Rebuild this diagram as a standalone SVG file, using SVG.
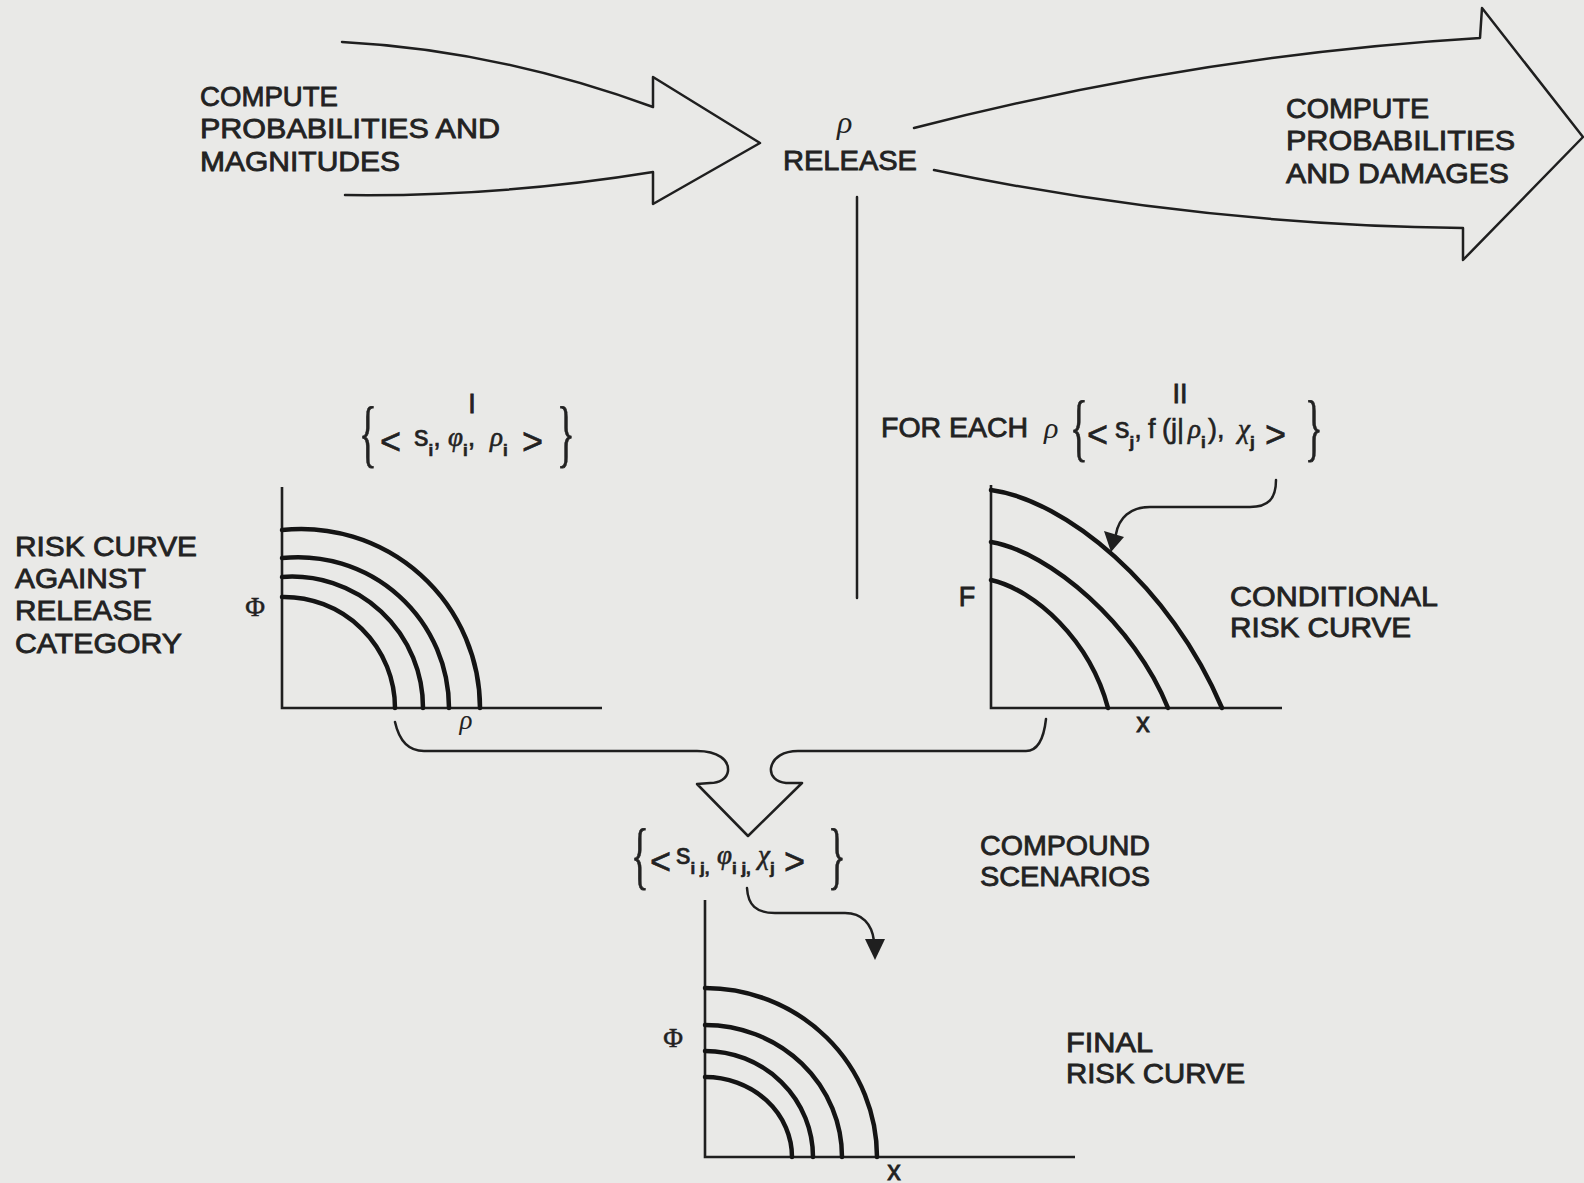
<svg xmlns="http://www.w3.org/2000/svg" width="1584" height="1183" viewBox="0 0 1584 1183">
<style>
.bg{fill:#e9e9e7}
.ln{fill:none;stroke:#1f1f1f;stroke-width:2.5;stroke-linecap:round;stroke-linejoin:round}
.ax{fill:none;stroke:#1f1f1f;stroke-width:2.6}
.cv{fill:none;stroke:#141414;stroke-width:4.5;stroke-linecap:round}
.head{fill:#1f1f1f}
.lbl{font-family:"Liberation Sans",Arial,sans-serif;font-size:27px;fill:#222;stroke:#222;stroke-width:0.8}
.m{font-family:"Liberation Sans",Arial,sans-serif;font-size:27px;fill:#222;stroke:#222;stroke-width:0.6}
.s{font-size:29px}
.gr{font-family:"Liberation Serif","Times New Roman",serif;font-style:italic}
.sub{font-size:17px;font-weight:bold}
.op{font-size:36px}
.br{font-family:"Liberation Serif",serif;font-size:74px;fill:#222;stroke:#222;stroke-width:0.8}
.ax-l{font-family:"Liberation Serif",serif;font-size:27px;fill:#222;stroke:#222;stroke-width:0.5}
</style>
<rect class="bg" x="0" y="0" width="1584" height="1183"/>

<g id="connectors">
  <path id="arrow-in" class="ln" d="M 342 42 Q 497 50 653 107 L 653 77 L 760 143 L 653 204 L 653 172 Q 499 197 345 195"/>
  <path id="arrow-out" class="ln" d="M 914 128 Q 1197 55 1480 38 L 1482 8 L 1583 137 L 1463 260 L 1463 228 Q 1198 225 934 170"/>
  <line id="release-line" class="ln" x1="857" y1="197" x2="857" y2="598"/>
  <path id="merge-arrow" class="ln" d="M 395 722 C 399 740 408 751 424 751 L 697 751 C 718 751 729 760 728 771 C 727 779 719 783 710 783 L 697 784 L 748 836 L 802 783 L 786 783 C 776 782 770 776 771 768 C 773 757 784 751 798 751 L 1026 751 C 1038 751 1044 737 1046 719"/>
  <path id="cond-pointer" class="ln" d="M 1276 480 C 1276 499 1268 507 1250 507 L 1150 507 C 1130 507 1119 518 1116 534"/>
  <polygon class="head" points="1104,531 1124,537 1111,552"/>
  <path id="final-pointer" class="ln" d="M 747 888 C 748 905 756 913 775 913 L 845 913 C 862 913 872 924 874 941"/>
  <polygon class="head" points="865,939 885,939 875,960"/>
</g>

<g id="node-compute-left">
  <text class="lbl" x="200" y="106" textLength="138" lengthAdjust="spacingAndGlyphs">COMPUTE</text>
  <text class="lbl" x="200" y="138" textLength="300" lengthAdjust="spacingAndGlyphs">PROBABILITIES AND</text>
  <text class="lbl" x="200" y="171" textLength="200" lengthAdjust="spacingAndGlyphs">MAGNITUDES</text>
</g>

<g id="node-release">
  <text class="gr" x="837" y="133" font-size="32" fill="#222">ρ</text>
  <text class="lbl" x="783" y="170" textLength="134" lengthAdjust="spacingAndGlyphs">RELEASE</text>
</g>

<g id="node-compute-right">
  <text class="lbl" x="1286" y="118" textLength="143" lengthAdjust="spacingAndGlyphs">COMPUTE</text>
  <text class="lbl" x="1286" y="150" textLength="229" lengthAdjust="spacingAndGlyphs">PROBABILITIES</text>
  <text class="lbl" x="1286" y="183" textLength="223" lengthAdjust="spacingAndGlyphs">AND DAMAGES</text>
</g>

<g id="node-set-I">
  <text class="lbl" x="472" y="413" text-anchor="middle" font-size="21">I</text>
  <text class="br" transform="translate(359,458) scale(0.5,1)">{</text>
  <text class="m"><tspan class="op" x="380" y="454">&lt;</tspan><tspan class="s" x="414" y="446">s</tspan><tspan class="sub" y="456">i</tspan><tspan y="446">,</tspan><tspan class="gr" x="448" y="446">φ</tspan><tspan class="sub" y="456">i</tspan><tspan y="446">,</tspan><tspan class="gr" x="490" y="446">ρ</tspan><tspan class="sub" y="456">i</tspan><tspan class="op" x="522" y="454">&gt;</tspan></text>
  <text class="br" transform="translate(557,458) scale(0.5,1)">}</text>
</g>

<g id="node-set-II">
  <text class="lbl" x="1180" y="403" text-anchor="middle" font-size="21">II</text>
  <text class="lbl" x="881" y="437" textLength="147" lengthAdjust="spacingAndGlyphs">FOR EACH</text>
  <text class="gr" x="1044" y="438" font-size="30" fill="#222">ρ</text>
  <text class="br" transform="translate(1070,452) scale(0.5,1)">{</text>
  <text class="m"><tspan class="op" x="1087" y="447">&lt;</tspan><tspan class="s" x="1115" y="438">s</tspan><tspan class="sub" y="448">j</tspan><tspan y="438">,</tspan><tspan x="1148" y="438">f</tspan><tspan x="1162" y="438">(j|</tspan><tspan class="gr" x="1188" y="438">ρ</tspan><tspan class="sub" y="448">i</tspan><tspan x="1208" y="438">),</tspan><tspan class="gr" x="1238" y="438">χ</tspan><tspan class="sub" y="448">j</tspan><tspan class="op" x="1265" y="447">&gt;</tspan></text>
  <text class="br" transform="translate(1305,452) scale(0.5,1)">}</text>
</g>

<g id="node-risk-curve-release">
  <text class="lbl" x="15" y="556" textLength="182" lengthAdjust="spacingAndGlyphs">RISK CURVE</text>
  <text class="lbl" x="15" y="588" textLength="131" lengthAdjust="spacingAndGlyphs">AGAINST</text>
  <text class="lbl" x="15" y="620" textLength="137" lengthAdjust="spacingAndGlyphs">RELEASE</text>
  <text class="lbl" x="15" y="653" textLength="167" lengthAdjust="spacingAndGlyphs">CATEGORY</text>
</g>

<g id="node-graph-I">
  <polyline class="ax" points="282,487 282,708 602,708"/>
  <path class="cv" d="M 282 530 A 179 179 0 0 1 480 708"/>
  <path class="cv" d="M 282 558 A 151 151 0 0 1 449 708"/>
  <path class="cv" d="M 282 577 A 131 131 0 0 1 423 708"/>
  <path class="cv" d="M 282 597 A 111 111 0 0 1 395 708"/>
  <text class="ax-l" x="255" y="616" text-anchor="middle">Φ</text>
  <text class="gr" x="466" y="729" font-size="27" fill="#222" text-anchor="middle">ρ</text>
</g>

<g id="node-graph-II">
  <polyline class="ax" points="991,485 991,708 1282,708"/>
  <path class="cv" d="M 991 490 C 1065 500 1170 585 1222 708"/>
  <path class="cv" d="M 991 542 C 1050 552 1135 625 1168 708"/>
  <path class="cv" d="M 991 580 C 1035 590 1090 640 1108 708"/>
  <text class="lbl" x="967" y="606" text-anchor="middle" font-size="24">F</text>
  <text class="lbl" x="1143" y="732" text-anchor="middle" font-size="21">x</text>
</g>

<g id="node-conditional">
  <text class="lbl" x="1230" y="606" textLength="208" lengthAdjust="spacingAndGlyphs">CONDITIONAL</text>
  <text class="lbl" x="1230" y="637" textLength="181" lengthAdjust="spacingAndGlyphs">RISK CURVE</text>
</g>

<g id="node-compound-set">
  <text class="br" transform="translate(631,880) scale(0.5,1)">{</text>
  <text class="m"><tspan class="op" x="650" y="874">&lt;</tspan><tspan class="s" x="676" y="864">s</tspan><tspan class="sub" y="874">i j,</tspan><tspan class="gr" x="717" y="864">φ</tspan><tspan class="sub" y="874">i j,</tspan><tspan class="gr" x="758" y="864">χ</tspan><tspan class="sub" y="874">j</tspan><tspan class="op" x="784" y="874">&gt;</tspan></text>
  <text class="br" transform="translate(828,880) scale(0.5,1)">}</text>
</g>

<g id="node-compound">
  <text class="lbl" x="980" y="855" textLength="170" lengthAdjust="spacingAndGlyphs">COMPOUND</text>
  <text class="lbl" x="980" y="886" textLength="170" lengthAdjust="spacingAndGlyphs">SCENARIOS</text>
</g>

<g id="node-graph-final">
  <polyline class="ax" points="705,900 705,1157 1075,1157"/>
  <path class="cv" d="M 705 988 A 172 169 0 0 1 877 1157"/>
  <path class="cv" d="M 705 1025 A 137 132 0 0 1 842 1157"/>
  <path class="cv" d="M 705 1051 A 108 106 0 0 1 813 1157"/>
  <path class="cv" d="M 705 1077 A 87 80 0 0 1 792 1157"/>
  <text class="ax-l" x="673" y="1047" text-anchor="middle">Φ</text>
  <text class="lbl" x="894" y="1180" text-anchor="middle" font-size="21">x</text>
</g>

<g id="node-final">
  <text class="lbl" x="1066" y="1052" textLength="87" lengthAdjust="spacingAndGlyphs">FINAL</text>
  <text class="lbl" x="1066" y="1083" textLength="179" lengthAdjust="spacingAndGlyphs">RISK CURVE</text>
</g>
</svg>
